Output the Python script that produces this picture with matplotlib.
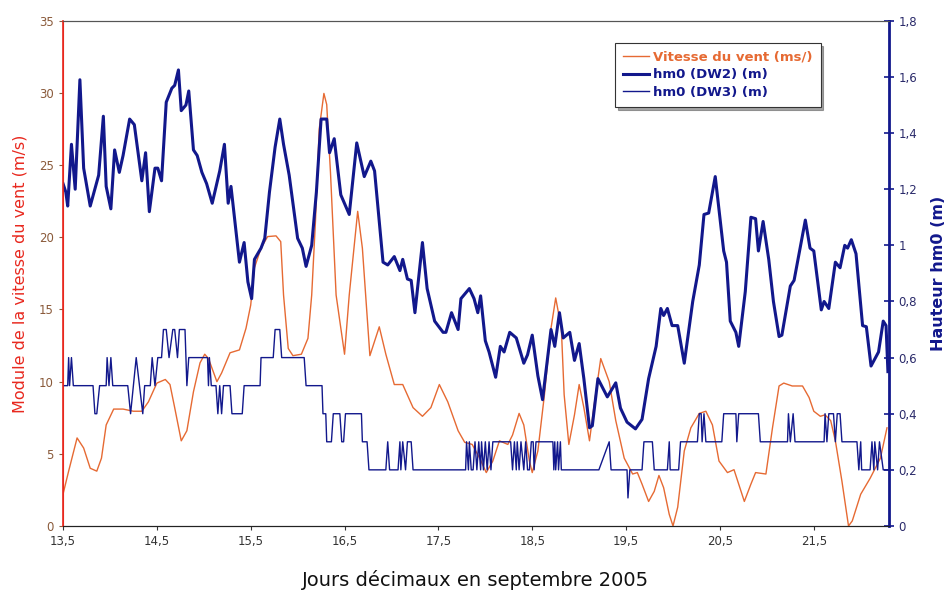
import matplotlib
matplotlib.use("Agg")
import matplotlib.pyplot as plt
from matplotlib.ticker import FuncFormatter

# wind speed (left axis, m/s)
wind_day = [13.50, 13.56, 13.65, 13.72, 13.79, 13.86, 13.91, 13.96, 14.04, 14.14, 14.25,
            14.34, 14.41, 14.50, 14.59, 14.64, 14.69, 14.76, 14.82, 14.89, 14.96, 15.01,
            15.05, 15.14, 15.19, 15.28, 15.38, 15.45, 15.50, 15.54, 15.61, 15.68, 15.77,
            15.82, 15.85, 15.90, 15.95, 16.04, 16.11, 16.15, 16.19, 16.23, 16.28, 16.31,
            16.35, 16.41, 16.50, 16.55, 16.64, 16.69, 16.77, 16.87, 16.94, 17.03, 17.12,
            17.23, 17.33, 17.42, 17.51, 17.60, 17.71, 17.78, 17.86, 17.94, 18.01, 18.08,
            18.15, 18.24, 18.29, 18.36, 18.41, 18.47, 18.50, 18.56, 18.63, 18.70, 18.75,
            18.81, 18.84, 18.89, 18.95, 19.00, 19.05, 19.11, 19.16, 19.23, 19.32, 19.39,
            19.48, 19.57, 19.62, 19.67, 19.74, 19.80, 19.85, 19.90, 19.96, 20.00, 20.05,
            20.12, 20.19, 20.28, 20.35, 20.42, 20.49, 20.58, 20.65, 20.76, 20.83, 20.88,
            20.99, 21.06, 21.13, 21.18, 21.27, 21.38, 21.45, 21.50, 21.57, 21.62, 21.68,
            21.73, 21.80, 21.87, 21.91, 22.00, 22.10, 22.21, 22.28]
wind_speed = [2.2, 3.8, 6.1, 5.4, 4.0, 3.8, 4.7, 7.0, 8.1, 8.1, 7.95,
              7.95, 8.6, 9.9, 10.15, 9.8, 8.2, 5.9, 6.6, 9.3, 11.3, 11.9,
              11.6, 10.0, 10.6, 12.0, 12.2, 13.7, 15.3, 17.9, 19.25, 20.05, 20.1,
              19.7, 16.0, 12.3, 11.8, 11.9, 13.0, 16.0, 21.1, 27.5, 29.97, 29.2,
              24.5, 16.0, 11.9, 16.0, 21.8, 19.25, 11.8, 13.8, 11.9, 9.8, 9.8,
              8.2, 7.6, 8.2, 9.8, 8.6, 6.6, 5.8, 5.65, 4.7, 3.7, 4.5,
              5.9, 5.65, 6.3, 7.8, 7.0, 4.5, 3.7, 5.2, 9.1, 13.7, 15.8,
              13.7, 9.1, 5.65, 7.7, 9.8, 8.2, 5.9, 8.4, 11.6, 10.0, 7.3,
              4.7, 3.6, 3.7, 2.9, 1.7, 2.4, 3.5, 2.65, 0.8, 0.0, 1.3,
              5.2, 6.8, 7.8, 7.95, 7.0, 4.5, 3.7, 3.9, 1.7, 2.9, 3.7,
              3.6, 6.8, 9.7, 9.9, 9.7, 9.7, 8.9, 7.95, 7.6, 7.7, 7.3,
              5.9, 3.1, 0.0, 0.35, 2.2, 3.3, 4.7, 6.8]

# hm0 DW2 (right axis, m)
dw2_day = [13.50, 13.53, 13.55, 13.59, 13.63, 13.68, 13.72, 13.79, 13.88, 13.93, 13.96,
           14.01, 14.05, 14.10, 14.14, 14.21, 14.26, 14.34, 14.38, 14.42, 14.48, 14.51,
           14.55, 14.60, 14.66, 14.69, 14.73, 14.76, 14.81, 14.84, 14.89, 14.93, 14.98,
           15.03, 15.09, 15.17, 15.22, 15.26, 15.29, 15.34, 15.38, 15.43, 15.47, 15.51,
           15.54, 15.61, 15.65, 15.70, 15.76, 15.81, 15.85, 15.91, 16.00, 16.05, 16.09,
           16.15, 16.20, 16.25, 16.31, 16.34, 16.39, 16.46, 16.55, 16.63, 16.71, 16.78,
           16.82, 16.91, 16.96, 17.03, 17.09, 17.12, 17.17, 17.21, 17.25, 17.33, 17.38,
           17.46, 17.55, 17.58, 17.64, 17.71, 17.74, 17.83, 17.88, 17.92, 17.95, 18.00,
           18.04, 18.11, 18.16, 18.20, 18.26, 18.33, 18.41, 18.45, 18.50, 18.56, 18.61,
           18.70, 18.74, 18.79, 18.83, 18.90, 18.95, 19.00, 19.05, 19.11, 19.14, 19.20,
           19.30, 19.39, 19.44, 19.51, 19.60, 19.67, 19.74, 19.82, 19.87, 19.90, 19.94,
           19.99, 20.05, 20.12, 20.21, 20.28, 20.33, 20.38, 20.45, 20.54, 20.57, 20.61,
           20.67, 20.70, 20.77, 20.83, 20.88, 20.91, 20.96, 21.02, 21.07, 21.13, 21.16,
           21.25, 21.29, 21.34, 21.41, 21.46, 21.50, 21.58, 21.61, 21.66, 21.73, 21.78,
           21.83, 21.86, 21.90, 21.95, 22.02, 22.06, 22.11, 22.19, 22.24, 22.27, 22.29]
dw2_hm0 = [1.22, 1.19, 1.14, 1.36, 1.20, 1.59, 1.275, 1.14, 1.25, 1.46, 1.21,
           1.13, 1.34, 1.26, 1.32, 1.45, 1.43, 1.23, 1.33, 1.12, 1.275, 1.275,
           1.23, 1.51, 1.56, 1.57, 1.625, 1.48, 1.50, 1.55, 1.34, 1.32, 1.26,
           1.22, 1.15, 1.265, 1.36, 1.15, 1.21, 1.06, 0.94, 1.01, 0.87, 0.81,
           0.95, 0.99, 1.025, 1.19, 1.35, 1.45, 1.36, 1.25, 1.025, 0.99, 0.925,
           1.0, 1.19, 1.45, 1.45, 1.33, 1.38, 1.18, 1.11, 1.365, 1.245, 1.30,
           1.265, 0.94, 0.93, 0.96, 0.91, 0.95, 0.88, 0.875, 0.76, 1.01, 0.846,
           0.73, 0.69, 0.69, 0.76, 0.70, 0.81, 0.846, 0.81, 0.76, 0.82, 0.66,
           0.62, 0.53, 0.64, 0.62, 0.69, 0.67, 0.58, 0.61, 0.68, 0.535, 0.45,
           0.70, 0.64, 0.76, 0.67, 0.69, 0.59, 0.65, 0.525, 0.35, 0.357, 0.525,
           0.46, 0.51, 0.42, 0.37, 0.346, 0.38, 0.525, 0.64, 0.775, 0.75, 0.775,
           0.714, 0.714, 0.58, 0.80, 0.93, 1.11, 1.115, 1.245, 0.98, 0.94, 0.73,
           0.69, 0.64, 0.835, 1.10, 1.095, 0.98, 1.085, 0.95, 0.80, 0.675, 0.68,
           0.855, 0.875, 0.965, 1.09, 0.99, 0.98, 0.77, 0.80, 0.775, 0.94, 0.92,
           1.0, 0.99, 1.02, 0.97, 0.714, 0.71, 0.57, 0.62, 0.73, 0.714, 0.55]

# hm0 DW3 (right axis, m), step-like record
dw3_day = [13.50, 13.55, 13.56, 13.57, 13.59, 13.61, 13.82, 13.84, 13.86, 13.89,
           13.96, 13.97, 13.99, 14.01, 14.03, 14.19, 14.22, 14.28, 14.35, 14.37,
           14.43, 14.45, 14.48, 14.51, 14.55, 14.57, 14.60, 14.63, 14.67, 14.69,
           14.72, 14.74, 14.80, 14.82, 14.84, 15.04, 15.05, 15.06, 15.08, 15.13,
           15.15, 15.17, 15.19, 15.21, 15.28, 15.30, 15.41, 15.43, 15.60, 15.61,
           15.74, 15.76, 15.81, 15.83, 16.07, 16.09, 16.26, 16.27, 16.30, 16.31,
           16.36, 16.38, 16.45, 16.47, 16.49, 16.51, 16.68, 16.69, 16.74, 16.76,
           16.94, 16.96, 16.98, 17.07, 17.09, 17.10, 17.12, 17.15, 17.17, 17.21,
           17.23, 17.79, 17.80, 17.82, 17.83, 17.85, 17.87, 17.89, 17.91, 17.93,
           17.95, 17.96, 17.98, 18.00, 18.02, 18.04, 18.06, 18.08, 18.27, 18.29,
           18.31, 18.33, 18.34, 18.36, 18.38, 18.41, 18.43, 18.45, 18.47, 18.49,
           18.51, 18.52, 18.54, 18.72, 18.73, 18.74, 18.75, 18.77, 18.78, 18.80,
           18.81, 19.21, 19.32, 19.34, 19.51, 19.52, 19.54, 19.67, 19.69, 19.78,
           19.80, 19.94, 19.96, 19.97, 20.06, 20.08, 20.26, 20.28, 20.30, 20.31,
           20.33, 20.35, 20.52, 20.54, 20.67, 20.68, 20.70, 20.91, 20.93, 21.22,
           21.23, 21.25, 21.28, 21.30, 21.61, 21.62, 21.64, 21.66, 21.71, 21.73,
           21.75, 21.78, 21.80, 21.96, 21.98, 22.00, 22.01, 22.10, 22.12, 22.14,
           22.15, 22.18, 22.20, 22.24, 22.30]
dw3_hm0 = [0.5, 0.5, 0.6, 0.5, 0.6, 0.5, 0.5, 0.4, 0.4, 0.5,
           0.5, 0.6, 0.5, 0.6, 0.5, 0.5, 0.4, 0.6, 0.4, 0.5,
           0.5, 0.6, 0.5, 0.6, 0.6, 0.7, 0.7, 0.6, 0.7, 0.7,
           0.6, 0.7, 0.7, 0.5, 0.6, 0.6, 0.5, 0.6, 0.5, 0.5,
           0.4, 0.5, 0.4, 0.5, 0.5, 0.4, 0.4, 0.5, 0.5, 0.6,
           0.6, 0.7, 0.7, 0.6, 0.6, 0.5, 0.5, 0.4, 0.4, 0.3,
           0.3, 0.4, 0.4, 0.3, 0.3, 0.4, 0.4, 0.3, 0.3, 0.2,
           0.2, 0.3, 0.2, 0.2, 0.3, 0.2, 0.3, 0.2, 0.3, 0.3,
           0.2, 0.2, 0.3, 0.2, 0.3, 0.2, 0.2, 0.3, 0.2, 0.3,
           0.2, 0.3, 0.2, 0.3, 0.2, 0.3, 0.2, 0.3, 0.3, 0.2,
           0.3, 0.2, 0.3, 0.2, 0.3, 0.2, 0.3, 0.2, 0.2, 0.3,
           0.3, 0.2, 0.3, 0.3, 0.2, 0.3, 0.2, 0.3, 0.2, 0.3,
           0.2, 0.2, 0.3, 0.2, 0.2, 0.1, 0.2, 0.2, 0.3, 0.3,
           0.2, 0.2, 0.3, 0.2, 0.2, 0.3, 0.3, 0.4, 0.4, 0.3,
           0.4, 0.3, 0.3, 0.4, 0.4, 0.3, 0.4, 0.4, 0.3, 0.3,
           0.4, 0.3, 0.4, 0.3, 0.3, 0.4, 0.3, 0.4, 0.4, 0.3,
           0.4, 0.4, 0.3, 0.3, 0.2, 0.3, 0.2, 0.2, 0.3, 0.2,
           0.3, 0.2, 0.3, 0.2, 0.2]

x_ticks = [13.5, 14.5, 15.5, 16.5, 17.5, 18.5, 19.5, 20.5, 21.5]
left_ticks = [0, 5, 10, 15, 20, 25, 30, 35]
right_ticks = [0, 0.2, 0.4, 0.6, 0.8, 1.0, 1.2, 1.4, 1.6, 1.8]

orange = "#e66a33"
navy = "#12188c"
red = "#e8281e"


def comma(v, pos):
    s = ("%.1f" % v).rstrip("0").rstrip(".")
    return s.replace(".", ",")


fig = plt.figure(figsize=(9.46, 5.95), dpi=100)
ax = fig.add_axes([0.0666, 0.116, 0.873, 0.849])
ax2 = ax.twinx()

l1, = ax.plot(wind_day, wind_speed, color=orange, lw=1.0, label="Vitesse du vent (ms/)")
l2, = ax2.plot(dw2_day, dw2_hm0, color=navy, lw=2.2, label="hm0 (DW2) (m)")
l3, = ax2.plot(dw3_day, dw3_hm0, color=navy, lw=1.0, label="hm0 (DW3) (m)")

ax.set_xlim(13.5, 22.3)
ax.set_ylim(0, 35)
ax2.set_ylim(0, 1.8)

ax.set_xticks(x_ticks)
ax.set_yticks(left_ticks)
ax2.set_yticks(right_ticks)
ax.xaxis.set_major_formatter(FuncFormatter(comma))
ax2.yaxis.set_major_formatter(FuncFormatter(comma))

ax.tick_params(axis="x", labelsize=8.5, colors="#333333", length=3, direction="out")
ax.tick_params(axis="y", labelsize=8.5, labelcolor="#8a5a3a", color="#8a5a3a", length=3,
               direction="out")
ax2.tick_params(axis="y", labelsize=8.5, labelcolor="#2a2a6a", color=navy, length=7,
                width=1.2, direction="inout")

for a in (ax, ax2):
    a.spines["top"].set_color("#555555")
    a.spines["top"].set_linewidth(0.8)
    a.spines["bottom"].set_color("#222222")
ax2.spines["left"].set_color(red)
ax2.spines["left"].set_linewidth(1.2)
ax2.spines["right"].set_color(navy)
ax2.spines["right"].set_linewidth(2.0)
ax.spines["right"].set_visible(False)
ax.spines["left"].set_color(red)

ax.set_xlabel("Jours décimaux en septembre 2005", fontsize=14, color="#111111", labelpad=16)
ax.set_ylabel("Module de la vitesse du vent (m/s)", fontsize=11.5, color=red, labelpad=8)
ax2.set_ylabel("Hauteur hm0 (m)", fontsize=11.5, color=navy, fontweight="bold", labelpad=10)

leg = fig.legend(handles=[l1, l2, l3], loc="upper left", bbox_to_anchor=(0.650, 0.928),
                 borderaxespad=0, fontsize=9.5, frameon=True, fancybox=False, shadow=True,
                 handlelength=2.0, handletextpad=0.3, borderpad=0.6, labelspacing=0.35)
leg.get_frame().set_edgecolor("#333333")
leg.get_frame().set_linewidth(0.8)
for txt, col in zip(leg.get_texts(), [orange, navy, navy]):
    txt.set_color(col)
    txt.set_fontweight("bold")

fig.savefig("out.png", dpi=100)
